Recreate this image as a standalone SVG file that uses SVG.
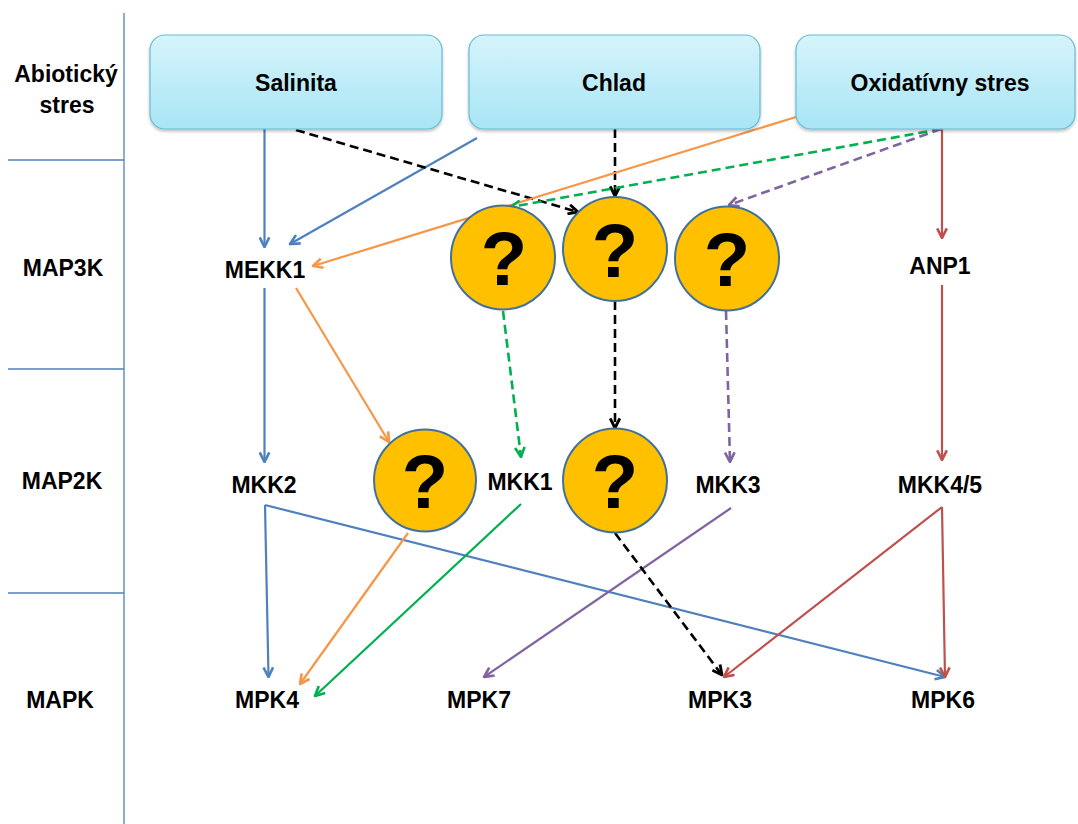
<svg xmlns="http://www.w3.org/2000/svg" width="1078" height="824" viewBox="0 0 1078 824">
<defs>
<linearGradient id="boxg" x1="0" y1="0" x2="0" y2="1">
<stop offset="0" stop-color="#d6f4fb"/>
<stop offset="1" stop-color="#a8e5f5"/>
</linearGradient>
<filter id="sh" x="-5%" y="-10%" width="110%" height="125%">
<feDropShadow dx="0" dy="2" stdDeviation="1.5" flood-color="#000" flood-opacity="0.25"/>
</filter>
<marker id="aB" viewBox="0 0 10 10" refX="9" refY="5" markerWidth="12" markerHeight="12" markerUnits="userSpaceOnUse" orient="auto"><path d="M1,1 L9,5 L1,9" fill="none" stroke="#4f81bd" stroke-width="2.2"/></marker>
<marker id="aO" viewBox="0 0 10 10" refX="9" refY="5" markerWidth="12" markerHeight="12" markerUnits="userSpaceOnUse" orient="auto"><path d="M1,1 L9,5 L1,9" fill="none" stroke="#f79646" stroke-width="2.2"/></marker>
<marker id="aG" viewBox="0 0 10 10" refX="9" refY="5" markerWidth="12" markerHeight="12" markerUnits="userSpaceOnUse" orient="auto"><path d="M1,1 L9,5 L1,9" fill="none" stroke="#00b050" stroke-width="2.2"/></marker>
<marker id="aP" viewBox="0 0 10 10" refX="9" refY="5" markerWidth="12" markerHeight="12" markerUnits="userSpaceOnUse" orient="auto"><path d="M1,1 L9,5 L1,9" fill="none" stroke="#8064a2" stroke-width="2.2"/></marker>
<marker id="aR" viewBox="0 0 10 10" refX="9" refY="5" markerWidth="12" markerHeight="12" markerUnits="userSpaceOnUse" orient="auto"><path d="M1,1 L9,5 L1,9" fill="none" stroke="#c0504d" stroke-width="2.2"/></marker>
<marker id="aK" viewBox="0 0 10 10" refX="9" refY="5" markerWidth="12" markerHeight="12" markerUnits="userSpaceOnUse" orient="auto"><path d="M1,1 L9,5 L1,9" fill="none" stroke="#000" stroke-width="2.4"/></marker>
</defs>
<style>
text{font-family:"Liberation Sans",Arial,sans-serif;font-weight:bold;font-size:23px;fill:#000;text-anchor:middle}
.box{fill:url(#boxg);stroke:#67bcd3;stroke-width:1.2}
.q{fill:#ffc000;stroke:#41719c;stroke-width:2}
.qt{font-size:76px}
.grid{stroke:#4f81bd;stroke-width:1.3;fill:none}
.c{fill:none;stroke-width:2.2}
.b{stroke:#4f81bd;marker-end:url(#aB)}
.o{stroke:#f79646;marker-end:url(#aO)}
.g{stroke:#00b050;marker-end:url(#aG)}
.p{stroke:#8064a2;marker-end:url(#aP)}
.r{stroke:#c0504d;marker-end:url(#aR)}
.k{stroke:#000;marker-end:url(#aK);stroke-width:2.6}
.d{stroke-dasharray:9 5;stroke-width:2.6}
</style>
<g id="grid">
<line class="grid" x1="124" y1="13" x2="124" y2="824"/>
<line class="grid" x1="8" y1="160" x2="124" y2="160"/>
<line class="grid" x1="8" y1="369" x2="124" y2="369"/>
<line class="grid" x1="8" y1="593" x2="124" y2="593"/>
</g>
<g id="row-labels">
<text x="66" y="82">Abiotický</text>
<text x="67" y="113">stres</text>
<text x="63" y="276">MAP3K</text>
<text x="62" y="489">MAP2K</text>
<text x="60" y="708">MAPK</text>
</g>
<g id="connectors">
<line class="c b" x1="264.5" y1="129" x2="264.5" y2="247"/>
<line class="c b" x1="477" y1="138" x2="290" y2="244"/>
<line class="c k d" x1="296" y1="130" x2="578" y2="212"/>
<line class="c k d" x1="615" y1="129" x2="615" y2="196"/>
<line class="c o" x1="796" y1="117" x2="313" y2="266"/>
<line class="c g d" x1="941" y1="129" x2="511" y2="207"/>
<line class="c p d" x1="941" y1="129" x2="729" y2="205"/>
<line class="c r" x1="942" y1="129" x2="942" y2="238"/>
<line class="c b" x1="264.5" y1="288" x2="264.5" y2="462"/>
<line class="c o" x1="296" y1="288" x2="389" y2="442"/>
<line class="c g d" x1="503" y1="311" x2="521" y2="457"/>
<line class="c k d" x1="615" y1="301" x2="615" y2="428"/>
<line class="c p d" x1="726" y1="311" x2="730" y2="462"/>
<line class="c r" x1="942" y1="285" x2="942" y2="460"/>
<line class="c b" x1="265" y1="505" x2="268.5" y2="677"/>
<line class="c b" x1="265" y1="505" x2="945" y2="677"/>
<line class="c o" x1="408" y1="533" x2="300" y2="684"/>
<line class="c g" x1="521" y1="504" x2="315" y2="696"/>
<line class="c p" x1="731" y1="508" x2="484" y2="677"/>
<line class="c k d" x1="615" y1="533" x2="722" y2="675"/>
<line class="c r" x1="942" y1="507" x2="724" y2="677"/>
<line class="c r" x1="942" y1="507" x2="945" y2="677"/>
</g>
<g id="salinita">
<rect class="box" x="150" y="35" width="292" height="94" rx="15" filter="url(#sh)"/>
<text x="296" y="91">Salinita</text>
</g>
<g id="chlad">
<rect class="box" x="469" y="35" width="291" height="94" rx="15" filter="url(#sh)"/>
<text x="614" y="91">Chlad</text>
</g>
<g id="oxidativny">
<rect class="box" x="796" y="35" width="279" height="94" rx="15" filter="url(#sh)"/>
<text x="940" y="91">Oxidatívny stres</text>
</g>
<g id="q1"><circle class="q" cx="503" cy="257.5" r="52"/><text class="qt" x="504" y="285">?</text></g>
<g id="q2"><circle class="q" cx="615" cy="249" r="52"/><text class="qt" x="615" y="277">?</text></g>
<g id="q3"><circle class="q" cx="727" cy="258.5" r="52"/><text class="qt" x="727" y="286">?</text></g>
<g id="q4"><circle class="q" cx="425" cy="480.5" r="51"/><text class="qt" x="425" y="508">?</text></g>
<g id="q5"><circle class="q" cx="615" cy="480.5" r="52"/><text class="qt" x="615" y="508">?</text></g>
<g id="mekk1"><text x="265" y="278">MEKK1</text></g>
<g id="anp1"><text x="940" y="274">ANP1</text></g>
<g id="mkk2"><text x="264" y="493">MKK2</text></g>
<g id="mkk1"><text x="520" y="490">MKK1</text></g>
<g id="mkk3"><text x="728" y="493">MKK3</text></g>
<g id="mkk45"><text x="940" y="493">MKK4/5</text></g>
<g id="mpk4"><text x="267" y="708">MPK4</text></g>
<g id="mpk7"><text x="479" y="708">MPK7</text></g>
<g id="mpk3"><text x="720" y="708">MPK3</text></g>
<g id="mpk6"><text x="943" y="708">MPK6</text></g>
</svg>
